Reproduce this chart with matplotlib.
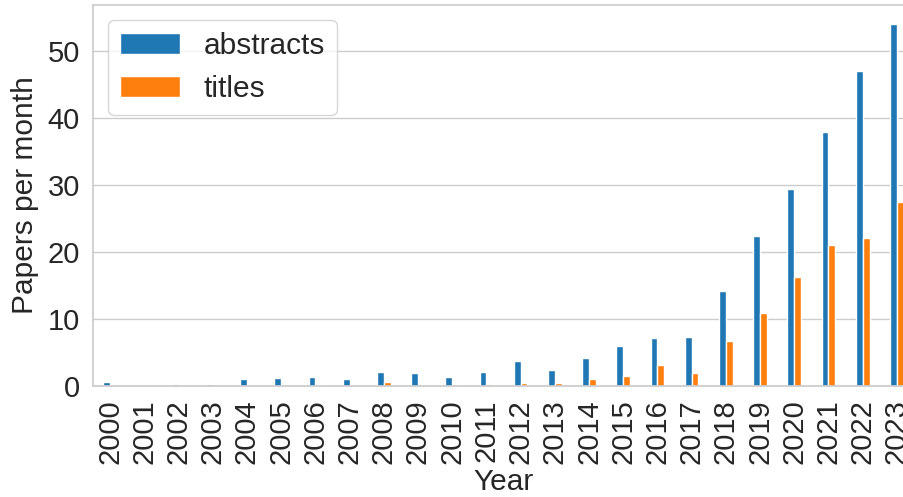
"""Papers per month mentioning the term, by year."""

import matplotlib

matplotlib.use("Agg")
import matplotlib.pyplot as plt
import numpy as np
import seaborn as sns

years = [str(y) for y in range(2000, 2024)]
abstracts = [0.55, 0.0, 0.35, 0.35, 1.0, 1.15, 1.3, 1.0, 2.05, 1.95, 1.3, 2.1,
             3.75, 2.4, 4.2, 5.9, 7.1, 7.35, 14.2, 22.4, 29.3, 37.8, 47.0, 53.9]
titles = [0.0, 0.0, 0.0, 0.0, 0.0, 0.0, 0.15, 0.0, 0.55, 0.0, 0.2, 0.3,
          0.45, 0.5, 1.1, 1.5, 3.1, 1.9, 6.7, 10.9, 16.2, 21.0, 22.0, 27.5]

sns.set_theme(style="whitegrid")
plt.rcParams["font.family"] = ["Liberation Sans", "DejaVu Sans"]

fig = plt.figure(figsize=(9.04, 4.97), dpi=100)
ax = fig.add_axes([93 / 904, 111 / 497, 821 / 904, 381 / 497])

x = np.arange(len(years))
width = 0.2
ax.bar(x - width / 2, abstracts, width, color="#1f77b4", label="abstracts")
ax.bar(x + width / 2, titles, width, color="#ff7f0e", label="titles")

ax.set_xlim(-0.5, len(years) - 0.5)
ax.set_ylim(0, 56.8)
ax.set_xticks(x)
ax.set_xticklabels(years, rotation=90)
ax.set_yticks([0, 10, 20, 30, 40, 50])
ax.tick_params(axis="both", labelsize=21, pad=3.5)
ax.grid(axis="x", visible=False)
ax.set_xlabel("Year", fontsize=21.5, labelpad=2.5)
ax.set_ylabel("Papers per month", fontsize=21.5, labelpad=6)
ax.legend(loc="upper left", fontsize=21.5, borderaxespad=0.5)

fig.savefig("out.png", dpi=100)
